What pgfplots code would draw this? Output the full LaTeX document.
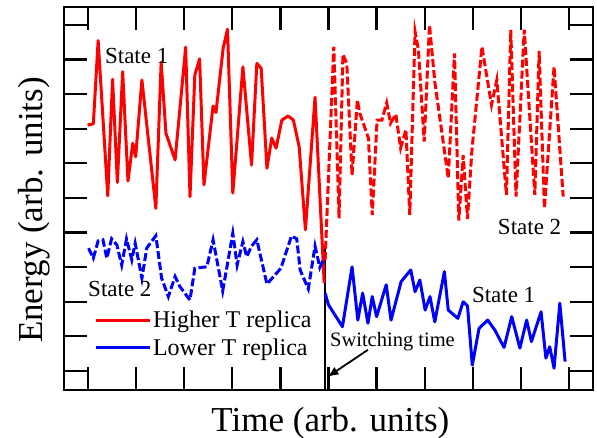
\documentclass[border=0pt]{standalone}
\usepackage{fontspec}
\setmainfont{Liberation Serif}
\usepackage{pgfplots}
\pgfplotsset{compat=1.18}
\usetikzlibrary{arrows.meta}
\definecolor{myred}{RGB}{255,0,0}
\definecolor{myblue}{RGB}{0,0,255}
\begin{document}
\begin{tikzpicture}
\begin{axis}[
  scale only axis,
  width=529pt, height=383pt,
  xmin=-0.5, xmax=10.5, ymin=-0.55, ymax=10.52,
  xtick={0,1,...,10}, ytick={0,1,...,10},
  xticklabels={}, yticklabels={},
  tick align=inside, major tick length=23pt,
  tick style={line width=2.2pt, black},
  axis line style={line width=2.4pt},
  clip=false,
  legend style={draw=none, fill=none, at={(axis cs:0.12,1.07)}, anchor=west,
    font=\fontsize{24}{28}\selectfont, inner sep=0pt, row sep=7pt,
    nodes={inner xsep=2pt, inner ysep=1pt}},
  legend cell align=left,
  legend image code/.code={\draw[#1, solid] (0pt,0pt) -- (54pt,0pt);},
]
% switching line
\addplot[black, line width=2.6pt, forget plot] coordinates {(4.93,3.64) (4.93,-0.55)};
% Higher T replica, state 1 (solid red)
\addplot[myred, line width=3pt, line join=round] coordinates {
(-0.01,7.11) (0.11,7.14) (0.21,9.55) (0.41,5.06) (0.51,8.43) (0.61,5.45)
(0.72,8.65) (0.83,5.49) (0.93,6.58) (0.99,6.19) (1.12,8.41) (1.41,4.70)
(1.52,8.92) (1.62,6.87) (1.81,6.10) (2.03,9.36) (2.12,5.04) (2.22,8.55)
(2.32,9.02) (2.41,5.38) (2.60,7.66) (2.66,7.47) (2.81,9.33) (2.90,9.88)
(3.01,5.14) (3.22,8.79) (3.40,5.95) (3.51,8.89) (3.60,8.75) (3.72,5.86)
(3.82,6.73) (3.91,6.44) (4.03,7.25) (4.16,7.37) (4.27,7.25) (4.39,6.48)
(4.52,4.08) (4.72,7.91) (4.91,2.54)
};
\addlegendentry{Higher T replica}
% Higher T replica after switch (dashed red)
\addplot[myred, line width=3pt, dash pattern=on 8pt off 3pt, forget plot] coordinates {
(4.93,3.21) (5.11,9.37) (5.22,4.41) (5.30,9.15) (5.38,8.89) (5.49,5.66)
(5.60,7.83) (5.65,7.45) (5.83,6.73) (5.91,4.51) (6.01,7.25) (6.11,7.25)
(6.21,7.75) (6.29,7.16) (6.40,7.42) (6.50,6.44) (6.61,6.97) (6.69,4.51)
(6.80,9.81) (6.87,9.28) (6.99,6.63) (7.10,10.0) (7.21,8.36) (7.49,5.57)
(7.62,9.18) (7.71,4.35) (7.80,6.24) (7.89,4.40) (7.98,6.34) (8.19,9.37)
(8.39,7.69) (8.50,8.41) (8.70,5.09) (8.79,9.86) (8.90,5.04) (9.07,9.86)
(9.29,5.09) (9.38,9.25) (9.49,4.70) (9.69,8.79) (9.88,5.04)
};
% Lower T replica before switch (dashed blue)
\addplot[myblue, line width=3pt, dash pattern=on 8pt off 3pt, forget plot] coordinates {
(0.01,3.55) (0.11,3.26) (0.21,3.76) (0.31,3.79) (0.39,3.26) (0.49,3.82)
(0.60,3.64) (0.70,3.06) (0.80,3.82) (0.91,3.21) (0.98,3.69) (1.12,2.68)
(1.22,3.55) (1.41,3.91) (1.53,2.68) (1.67,2.15) (1.81,2.73) (1.91,2.44)
(2.12,2.05) (2.22,2.97) (2.47,3.01) (2.60,3.79) (2.80,2.31) (3.01,3.98)
(3.10,3.06) (3.22,3.74) (3.30,3.30) (3.40,3.61) (3.51,3.79) (3.72,2.51)
(4.01,2.97) (4.23,3.90) (4.34,3.82) (4.41,2.92) (4.58,2.37) (4.72,3.61)
(4.82,2.99) (4.91,3.27)
};
% Lower T replica after switch (solid blue)
\addplot[myblue, line width=3pt, line join=round] coordinates {
(4.93,2.25) (5.00,1.91) (5.29,1.28) (5.49,3.01) (5.61,1.47) (5.71,2.25)
(5.82,1.38) (5.91,2.15) (6.00,1.57) (6.20,2.49) (6.30,1.47) (6.51,2.58)
(6.71,2.92) (6.80,2.29) (6.90,2.63) (7.01,1.76) (7.11,2.15) (7.21,1.42)
(7.41,2.87) (7.49,1.76) (7.69,1.52) (7.80,2.00) (7.89,1.88) (7.99,0.17)
(8.13,1.23) (8.31,1.47) (8.46,1.18) (8.65,0.68) (8.81,1.57) (8.98,0.66)
(9.12,1.47) (9.22,0.85) (9.42,1.71) (9.52,0.37) (9.60,0.70) (9.69,0.08)
(9.81,1.96) (9.92,0.27)
};
\addlegendentry{Lower T replica}
% annotations
\node[anchor=base west, inner sep=0pt, font=\fontsize{23}{27}\selectfont] at (axis cs:0.35,8.90) {State 1};
\node[anchor=base west, inner sep=0pt, font=\fontsize{23}{27}\selectfont] at (axis cs:0.0,2.14) {State 2};
\node[anchor=base west, inner sep=0pt, font=\fontsize{23}{27}\selectfont] at (axis cs:8.52,3.93) {State 2};
\node[anchor=base west, inner sep=0pt, font=\fontsize{23}{27}\selectfont] at (axis cs:7.98,1.99) {State 1};
\node[anchor=base west, inner sep=0pt, font=\fontsize{20.5}{24}\selectfont] at (axis cs:5.03,0.72) {Switching time};
\draw[-{Latex[length=11pt,width=9pt]}, line width=1.8pt] (axis cs:5.82,0.61) -- (axis cs:4.98,-0.17);
% axis labels
\node[anchor=base, inner sep=0pt, font=\fontsize{35}{40}\selectfont] at (axis cs:5.04,-1.76) {Time (arb. units)};
\node[anchor=base, rotate=90, inner sep=0pt, font=\fontsize{35}{40}\selectfont] at (axis cs:-0.94,4.65) {Energy (arb. units)};
\end{axis}
\pgfresetboundingbox
\path (current axis.south west) ++(-64pt,-48pt) rectangle ++(597pt,438pt);
\end{tikzpicture}
\end{document}
